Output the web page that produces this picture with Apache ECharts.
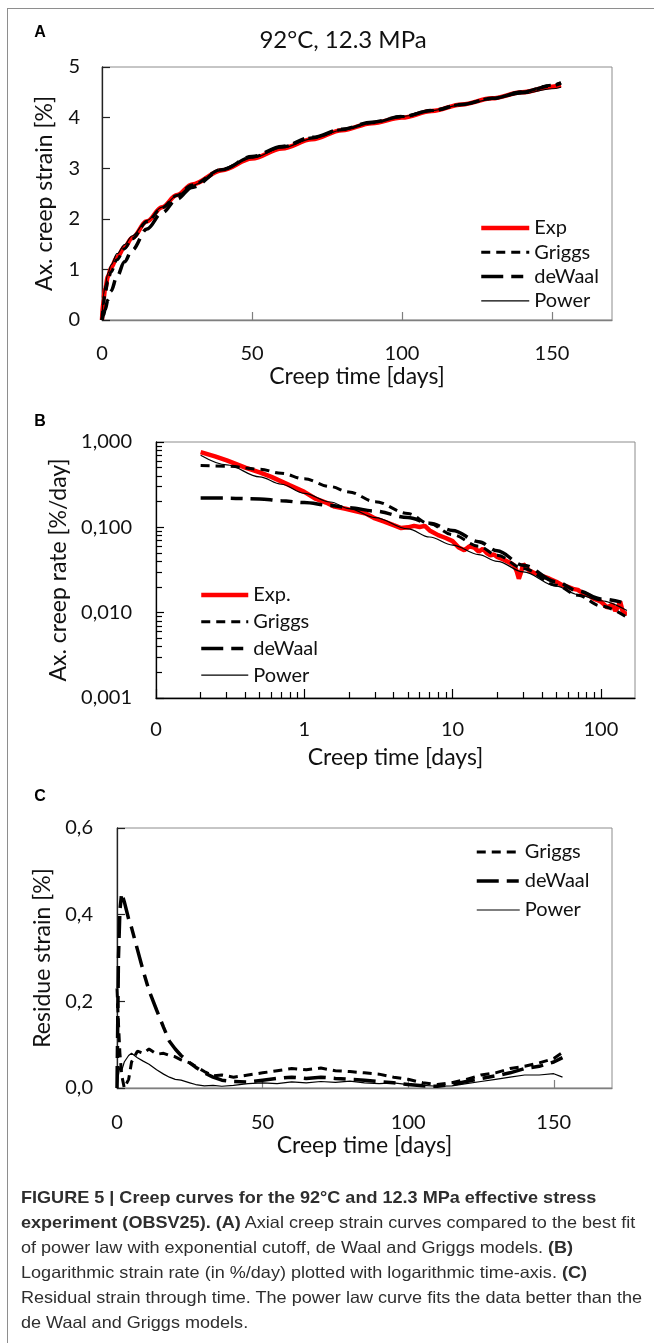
<!DOCTYPE html>
<html>
<head>
<meta charset="utf-8">
<script src="https://cdn.jsdelivr.net/npm/echarts@6/dist/echarts.min.js"></script>
<style>
  html, body { margin: 0; padding: 0; background: #fff; }
  #frame { position: absolute; left: 7px; top: 8px; width: 700px; height: 1400px;
           border-left: 1.5px solid #8e8e8e; border-top: 1.5px solid #8e8e8e; }
  #chart { position: absolute; left: 0; top: 0; width: 654px; height: 1343px; }
  #cap { position: absolute; left: 21px; top: 1185px; color: #2e2e2e;
         font-family: "Liberation Sans Narrow", "Liberation Sans", Arial, sans-serif;
         font-size: 16.5px; line-height: 25px; transform-origin: 0 0; }
  #cap .ln { white-space: nowrap; }
  #cap .ln span { display: inline-block; }
</style>
</head>
<body>
<div id="chart"></div>
<div id="frame"></div>
<div id="cap">
  <div class="ln"><span><b>FIGURE 5 | Creep curves for the 92°C and 12.3 MPa effective stress</b></span></div>
  <div class="ln"><span><b>experiment (OBSV25). (A)</b> Axial creep strain curves compared to the best fit</span></div>
  <div class="ln"><span>of power law with exponential cutoff, de Waal and Griggs models. <b>(B)</b></span></div>
  <div class="ln"><span>Logarithmic strain rate (in %/day) plotted with logarithmic time-axis. <b>(C)</b></span></div>
  <div class="ln" id="wide"><span>Residual strain through time. The power law curve fits the data better than the</span></div>
  <div class="ln"><span>de Waal and Griggs models.</span></div>
</div>
<script>
// panel A: axial creep strain [%] vs creep time [days]
var aTime   = [0, 0.5, 1, 2, 3, 5, 7.5, 10, 15, 20, 25, 30, 40, 50, 60, 70, 80, 90, 100, 110, 120, 130, 140, 150, 153];
var aExp    = [0, 0.42, 0.6, 0.86, 1.03, 1.24, 1.44, 1.62, 1.95, 2.23, 2.47, 2.68, 2.96, 3.19, 3.39, 3.57, 3.75, 3.89, 4.0, 4.13, 4.26, 4.38, 4.5, 4.61, 4.64];
var aGriggs = [0, 0.33, 0.5, 0.76, 0.95, 1.19, 1.41, 1.6, 1.94, 2.22, 2.46, 2.67, 2.98, 3.22, 3.42, 3.6, 3.76, 3.9, 4.02, 4.14, 4.26, 4.38, 4.51, 4.64, 4.69];
var aDeWaal = [0, 0.1, 0.2, 0.4, 0.57, 0.86, 1.15, 1.38, 1.8, 2.12, 2.39, 2.62, 2.97, 3.23, 3.43, 3.61, 3.77, 3.91, 4.02, 4.14, 4.26, 4.38, 4.5, 4.63, 4.68];
var aPower  = [0, 0.5, 0.68, 0.93, 1.09, 1.31, 1.49, 1.66, 1.97, 2.23, 2.46, 2.66, 2.96, 3.2, 3.4, 3.58, 3.75, 3.9, 4.02, 4.14, 4.25, 4.36, 4.47, 4.57, 4.6];

// panel B: creep rate [%/day] vs time, log-log
var bExpTime = [0.2, 0.25, 0.3, 0.4, 0.5, 0.6, 0.8, 1.0, 1.2, 1.4, 1.6, 1.9, 2.2, 2.6, 3.0, 3.5, 4.0, 4.5, 5.0, 5.5, 6.0, 6.5, 7.0,
  8, 9, 10, 11, 12, 13, 14, 15, 16, 17, 18, 19, 20, 22, 24, 26, 27, 28, 29, 30, 31, 33, 36, 40, 45, 50,
  55, 60, 65, 70, 75, 80, 85, 90, 95, 100, 105, 110, 115, 120, 125, 130, 135, 140, 145, 150];
var bExp = [0.76, 0.68, 0.61, 0.5, 0.44, 0.39, 0.31, 0.26, 0.215, 0.195, 0.175, 0.165, 0.155, 0.145, 0.127, 0.116, 0.106, 0.098, 0.1, 0.104, 0.101, 0.104, 0.092,
  0.081, 0.075, 0.069, 0.058, 0.054, 0.06, 0.058, 0.052, 0.056, 0.05, 0.047, 0.048, 0.045, 0.042, 0.039, 0.036, 0.031, 0.025, 0.03, 0.037, 0.035, 0.031, 0.029, 0.027, 0.025, 0.023,
  0.021, 0.02, 0.019, 0.0185, 0.017, 0.0165, 0.0155, 0.0145, 0.014, 0.0135, 0.0125, 0.0115, 0.012, 0.0125, 0.0105, 0.0115, 0.0135, 0.0105, 0.0098, 0.0098];
var bModelTime = [0.2, 0.3, 0.5, 0.7, 1, 1.5, 2, 3, 5, 7, 10, 15, 20, 30, 50, 70, 100, 150];
var bGriggs = [0.53, 0.52, 0.48, 0.43, 0.37, 0.3, 0.26, 0.2, 0.145, 0.11, 0.082, 0.06, 0.047, 0.033, 0.021, 0.016, 0.012, 0.0088];
var bDeWaal = [0.22, 0.22, 0.215, 0.205, 0.195, 0.18, 0.17, 0.155, 0.13, 0.112, 0.092, 0.068, 0.053, 0.036, 0.023, 0.018, 0.0145, 0.0128];
var bPower  = [0.7, 0.54, 0.39, 0.32, 0.25, 0.198, 0.166, 0.13, 0.096, 0.077, 0.062, 0.048, 0.04, 0.03, 0.0205, 0.0163, 0.0138, 0.0106];

// panel C: residue strain [%]
var cTime = [0, 0.5, 1, 1.6, 2.5, 4, 5, 7, 9, 11, 13.6, 16, 18, 20, 22, 25, 27, 30, 33, 36, 40, 45, 50, 55, 60, 65, 70, 75, 80, 85,
  90, 95, 100, 105, 110, 115, 120, 125, 130, 135, 140, 145, 150, 153];
var cGriggs = [0.23, 0.15, 0.08, 0.03, 0.0, 0.02, 0.06, 0.085, 0.08, 0.09, 0.078, 0.08, 0.075, 0.072, 0.065, 0.058, 0.05, 0.038, 0.028, 0.03,
  0.025, 0.03, 0.035, 0.04, 0.045, 0.042, 0.046, 0.04, 0.038, 0.035, 0.032, 0.025, 0.02, 0.012, 0.008, 0.012, 0.02, 0.03, 0.035, 0.045,
  0.05, 0.058, 0.068, 0.082];
var cDeWaal = [0, 0.3, 0.41, 0.45, 0.43, 0.39, 0.37, 0.32, 0.27, 0.225, 0.18, 0.14, 0.108, 0.09, 0.075, 0.058, 0.048, 0.035, 0.025, 0.018,
  0.015, 0.014, 0.018, 0.022, 0.025, 0.022, 0.025, 0.022, 0.02, 0.018, 0.015, 0.012, 0.008, 0.005, 0.004, 0.008, 0.015, 0.022, 0.028, 0.035,
  0.045, 0.05, 0.06, 0.07];
var cPower = [0, 0.03, 0.05, 0.04, 0.06, 0.075, 0.08, 0.07, 0.062, 0.055, 0.042, 0.032, 0.025, 0.02, 0.018, 0.012, 0.008, 0.005, 0.006, 0.004,
  0.006, 0.01, 0.012, 0.01, 0.014, 0.012, 0.015, 0.013, 0.016, 0.012, 0.01, 0.012, 0.008, 0.006, 0.004, 0.005, 0.01, 0.015, 0.02, 0.025,
  0.03, 0.03, 0.033, 0.025];

// tick positions
var aXTicks = [0, 50, 100, 150];
var aYTicks = [0, 1, 2, 3, 4, 5];
var bXMajor = [0.1, 1, 10, 100];
var bXMinor = [0.2, 0.3, 0.4, 0.5, 0.6, 0.7, 0.8, 0.9, 2, 3, 4, 5, 6, 7, 8, 9, 20, 30, 40, 50, 60, 70, 80, 90];
var bYMajor = [0.001, 0.01, 0.1, 1];
var bYMinor = [0.002, 0.003, 0.004, 0.005, 0.006, 0.007, 0.008, 0.009, 0.02, 0.03, 0.04, 0.05, 0.06, 0.07, 0.08, 0.09,
  0.2, 0.3, 0.4, 0.5, 0.6, 0.7, 0.8, 0.9];
var cXTicks = [0, 50, 100, 150];
var cYTicks = [0, 0.2, 0.4, 0.6];

function zip(xs, ys) { return xs.map(function (x, i) { return [x, ys[i]]; }); }

var FONT = 'Lato';
var INK = '#111';
var GREY = '#7f7f7f';
var lblStyle = { fontSize: 20, color: INK, fontFamily: FONT };
var nameStyle = { fontSize: 23, color: INK, fontFamily: FONT };

function axis(o) {
  var a = {
    gridIndex: o.grid, type: o.type || 'value', min: o.min, max: o.max, position: o.pos,
    splitLine: { show: false },
    axisLine: { show: o.line !== false, onZero: false, lineStyle: { color: o.color, width: 1.3 } },
    axisTick: { inside: true, length: o.tick, customValues: o.ticks, lineStyle: { color: o.color, width: 1.2 } },
    axisLabel: o.labels === false ? { show: false } : Object.assign({ customValues: o.ticks, margin: o.margin, formatter: o.fmt }, lblStyle)
  };
  if (o.logBase) a.logBase = o.logBase;
  if (o.name) {
    a.name = o.name; a.nameLocation = 'middle'; a.nameGap = o.gap; a.nameTextStyle = nameStyle;
  }
  return a;
}

var dashG = [9, 6];
var dashW = [22, 8, 12, 8];

function line(name, data, xi, yi, kind, smooth) {
  var s = { name: name, type: 'line', data: data, xAxisIndex: xi, yAxisIndex: yi, symbol: 'none',
            animation: false, smooth: smooth ? 0.35 : false, smoothMonotone: 'x' };
  if (kind === 'exp') s.lineStyle = { color: '#ff0000', width: 4.5 };
  if (kind === 'g') s.lineStyle = { color: '#000', width: 3, type: dashG };
  if (kind === 'w') s.lineStyle = { color: '#000', width: 3.5, type: dashW };
  if (kind === 'p') s.lineStyle = { color: '#000', width: 1.2 };
  s.itemStyle = { color: s.lineStyle.color };
  return s;
}

function legend(names, left, top, gap, w) {
  return {
    data: names, orient: 'vertical', left: left, top: top, padding: 0,
    itemWidth: w, itemHeight: 14, itemGap: gap, selectedMode: false,
    itemStyle: { opacity: 0 },
    lineStyle: { width: 'inherit', type: 'inherit' },
    textStyle: { fontSize: 20, lineHeight: 20, color: INK, fontFamily: FONT }
  };
}

var chart = echarts.init(document.getElementById('chart'), null, { renderer: 'canvas' });

var option = {
  backgroundColor: '#fff',
  animation: false,
  textStyle: { fontFamily: FONT },
  grid: [
    { left: 102, top: 67, width: 510, height: 253, show: true, borderColor: '#8c8c8c', borderWidth: 1 },
    { left: 156, top: 442, width: 479, height: 256, show: true, borderColor: '#8c8c8c', borderWidth: 1 },
    { left: 117, top: 828, width: 495, height: 260, show: true, borderColor: '#8c8c8c', borderWidth: 1 }
  ],
  xAxis: [
    axis({ grid: 0, min: 0, max: 170, pos: 'bottom', color: GREY, tick: 8, ticks: aXTicks, margin: 24,
           name: 'Creep time [days]', gap: 41 }),
    axis({ grid: 1, type: 'log', logBase: 10, min: 0.1, max: 170, pos: 'bottom', color: '#000', tick: 9, ticks: bXMajor, margin: 22,
           fmt: function (v) { return String(Math.round(v)); }, name: 'Creep time [days]', gap: 48 }),
    axis({ grid: 1, type: 'log', logBase: 10, min: 0.1, max: 170, pos: 'bottom', color: '#000', tick: 6, ticks: bXMinor,
           line: false, labels: false }),
    axis({ grid: 2, min: 0, max: 170, pos: 'bottom', color: GREY, tick: 8, ticks: cXTicks, margin: 25,
           name: 'Creep time [days]', gap: 41 })
  ],
  yAxis: [
    axis({ grid: 0, min: 0, max: 5, pos: 'left', color: '#222', tick: 8, ticks: aYTicks, margin: 22,
           name: 'Ax. creep strain [%]', gap: 46 }),
    axis({ grid: 1, type: 'log', logBase: 10, min: 0.001, max: 1, pos: 'left', color: '#000', tick: 8, ticks: bYMajor, margin: 24,
           fmt: function (v) { return v.toFixed(3).replace('.', ','); }, name: 'Ax. creep rate [%/day]', gap: 86 }),
    axis({ grid: 1, type: 'log', logBase: 10, min: 0.001, max: 1, pos: 'left', color: '#000', tick: 6, ticks: bYMinor,
           line: false, labels: false }),
    axis({ grid: 2, min: 0, max: 0.6, pos: 'left', color: '#222', tick: 8, ticks: cYTicks, margin: 24,
           fmt: function (v) { return v.toFixed(1).replace('.', ','); }, name: 'Residue strain [%]', gap: 60 })
  ],
  legend: [
    legend(['Exp', 'Griggs', 'deWaal', 'Power'], 479, 218, 4.3, 48),
    legend(['Exp.', 'Griggs', 'deWaal', 'Power'], 199, 585, 6.7, 47),
    legend(['Griggs', 'deWaal', 'Power'], 475, 842, 9, 43)
  ],
  graphic: [
    { type: 'text', x: 343, y: 40, style: { text: '92°C, 12.3 MPa', font: '24px Lato', fill: INK,
      align: 'center', verticalAlign: 'middle', textAlign: 'center', textVerticalAlign: 'middle' } },
    { type: 'text', x: 40, y: 33, style: { text: 'A', font: 'bold 16px "Liberation Sans"', fill: '#000',
      align: 'center', verticalAlign: 'middle', textAlign: 'center', textVerticalAlign: 'middle' } },
    { type: 'text', x: 40, y: 422, style: { text: 'B', font: 'bold 16px "Liberation Sans"', fill: '#000',
      align: 'center', verticalAlign: 'middle', textAlign: 'center', textVerticalAlign: 'middle' } },
    { type: 'text', x: 40, y: 797, style: { text: 'C', font: 'bold 16px "Liberation Sans"', fill: '#000',
      align: 'center', verticalAlign: 'middle', textAlign: 'center', textVerticalAlign: 'middle' } }
  ],
  series: [
    line('Exp', zip(aTime, aExp), 0, 0, 'exp', true),
    line('Griggs', zip(aTime, aGriggs), 0, 0, 'g', true),
    line('deWaal', zip(aTime, aDeWaal), 0, 0, 'w', true),
    line('Power', zip(aTime, aPower), 0, 0, 'p', true),

    line('Exp.', zip(bExpTime, bExp), 1, 1, 'exp', false),
    line('Griggs', zip(bModelTime, bGriggs), 1, 1, 'g', true),
    line('deWaal', zip(bModelTime, bDeWaal), 1, 1, 'w', true),
    line('Power', zip(bModelTime, bPower), 1, 1, 'p', true),

    line('Griggs', zip(cTime, cGriggs), 3, 3, 'g', false),
    line('deWaal', zip(cTime, cDeWaal), 3, 3, 'w', false),
    line('Power', zip(cTime, cPower), 3, 3, 'p', false)
  ]
};

chart.setOption(option);

// squeeze the caption to the width of the printed figure legend
var wide = document.querySelector('#wide span');
var k = 621 / wide.getBoundingClientRect().width;
document.getElementById('cap').style.transform = 'scaleX(' + k + ')';
</script>
</body>
</html>
